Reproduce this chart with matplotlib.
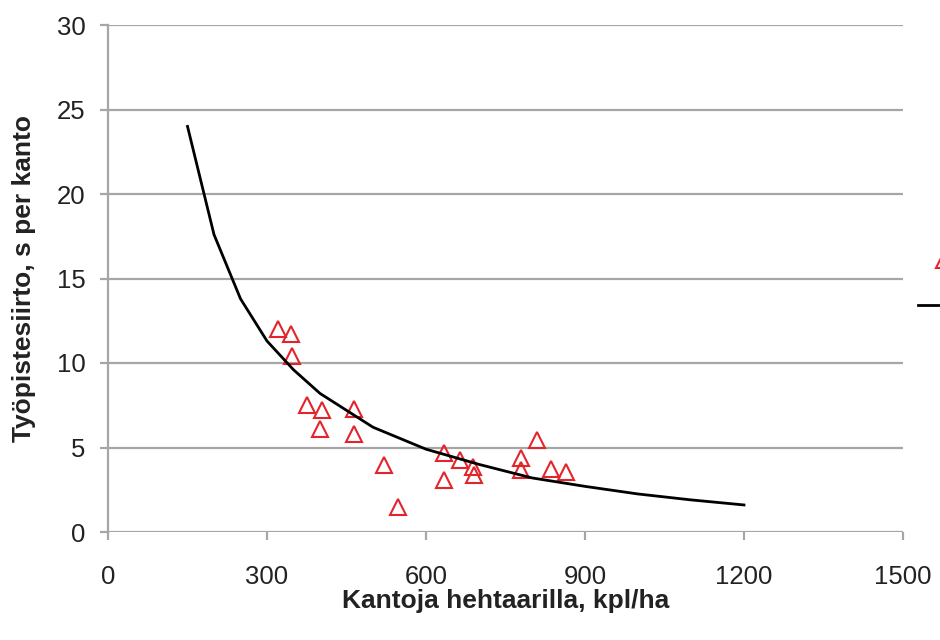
import matplotlib.pyplot as plt

plt.rcParams["font.family"] = ["Liberation Sans", "DejaVu Sans"]

# --------------------- DATA ---------------------

# havainnot (punaiset kolmiot)
obs_x = [320, 346, 347, 376, 403, 400, 465, 465, 521, 548,
         634, 634, 664, 688, 691, 779, 779, 809, 835, 865]
obs_y = [12.0, 11.7, 10.4, 7.5, 7.2, 6.1, 7.3, 5.8, 3.95, 1.5,
         4.7, 3.05, 4.25, 3.85, 3.4, 4.4, 3.65, 5.45, 3.7, 3.55]

# malli (musta käyrä)
model_x = [150, 200, 250, 300, 350, 400, 500, 600, 700, 800, 900, 1000, 1100, 1200]
model_y = [24.0, 17.6, 13.8, 11.3, 9.6, 8.2, 6.2, 4.9, 4.0, 3.2, 2.7, 2.25, 1.9, 1.6]

x_ticks = [0, 300, 600, 900, 1200, 1500]
y_ticks = [0, 5, 10, 15, 20, 25, 30]

# --------------------- PLOT ---------------------

grid_col = "#a6a6a6"

fig = plt.figure(figsize=(9.4, 6.4), dpi=100)
ax = fig.add_axes([108 / 940, 1 - 532 / 640, 795 / 940, 507 / 640])

obs, = ax.plot(obs_x, obs_y, linestyle="none", marker="^", markersize=11,
               markerfacecolor="none", markeredgecolor="#e3242b",
               markeredgewidth=1.5, zorder=3)
model, = ax.plot(model_x, model_y, color="black", linewidth=2, zorder=4)

ax.set_xlim(0, 1500)
ax.set_ylim(0, 30)
ax.set_xticks(x_ticks)
ax.set_yticks(y_ticks)

ax.grid(axis="y", color=grid_col, linewidth=1.6)
ax.set_axisbelow(True)
for side in ["top", "right", "bottom"]:
    ax.spines[side].set_visible(False)
ax.spines["left"].set_color(grid_col)
ax.spines["left"].set_linewidth(1.6)

ax.tick_params(axis="x", length=6, width=1.6, color=grid_col, pad=18,
               labelsize=18.5, labelcolor="#222222")
ax.tick_params(axis="y", length=6, width=1.6, color=grid_col, pad=10,
               labelsize=18.5, labelcolor="#222222")

ax.set_xlabel("Kantoja hehtaarilla, kpl/ha", fontsize=19, fontweight="bold",
              color="#222222")
ax.set_ylabel("Työpistesiirto, s per kanto", fontsize=19, fontweight="bold",
              color="#222222")
ax.xaxis.set_label_coords(0.5, -0.112)
ax.yaxis.set_label_coords(-0.09, 0.5)

# selite jää kuvan oikean reunan yli, tekstit eivät näy
ax.legend([obs, model], [" ", " "], loc="center left",
          bbox_to_anchor=(918 / 940, 1 - 284 / 640),
          bbox_transform=fig.transFigure, frameon=False, fontsize=15,
          borderpad=0, borderaxespad=0, handlelength=2.5, labelspacing=1.25)

fig.savefig("out.png", dpi=100)
